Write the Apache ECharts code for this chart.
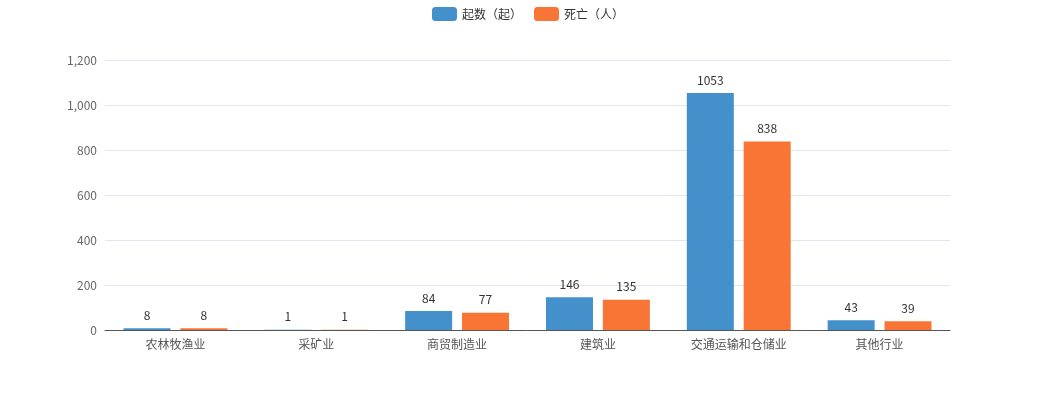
<!DOCTYPE html>
<html><head><meta charset="utf-8">
<script src="https://cdn.jsdelivr.net/npm/echarts@6/dist/echarts.min.js"></script>
<style>html,body{margin:0;padding:0;background:#fff}#c{width:1056px;height:400px}</style>
</head><body><div id="c"></div>
<script>
const categories = ['农林牧渔业','采矿业','商贸制造业','建筑业','交通运输和仓储业','其他行业'];
const countValues = [8, 1, 84, 146, 1053, 43];
const deathValues = [8, 1, 77, 135, 838, 39];
const seriesNames = ['起数（起）','死亡（人）'];
const chart = echarts.init(document.getElementById('c'));
const font = '"Microsoft YaHei","Noto Sans CJK SC",sans-serif';
chart.setOption({
  animation: false,
  textStyle: {fontFamily: font},
  color: ['#4390ca', '#f87536'],
  legend: {top: 2, left: 'center', itemWidth: 25, itemHeight: 14, itemGap: 12,
    textStyle: {fontSize: 12, color: '#333', fontFamily: font}},
  grid: {left: 105, right: 106, top: 60, bottom: 70},
  xAxis: {type: 'category', data: categories,
    axisLine: {lineStyle: {color: '#555'}},
    axisTick: {lineStyle: {color: '#555'}},
    axisLabel: {color: '#555', fontSize: 12, fontFamily: font}},
  yAxis: {type: 'value', min: 0, max: 1200, interval: 200,
    axisLine: {show: false}, axisTick: {show: false},
    axisLabel: {color: '#666', fontSize: 12, fontFamily: font},
    splitLine: {lineStyle: {color: '#e3e6ee'}}},
  series: [
    {name: seriesNames[0], type: 'bar', data: countValues, barWidth: 47, barGap: '21%',
     label: {show: true, position: 'top', distance: 7, color: '#333', fontSize: 12, fontFamily: font}},
    {name: seriesNames[1], type: 'bar', data: deathValues, barWidth: 47,
     label: {show: true, position: 'top', distance: 7, color: '#333', fontSize: 12, fontFamily: font}}
  ]
});
</script></body></html>
